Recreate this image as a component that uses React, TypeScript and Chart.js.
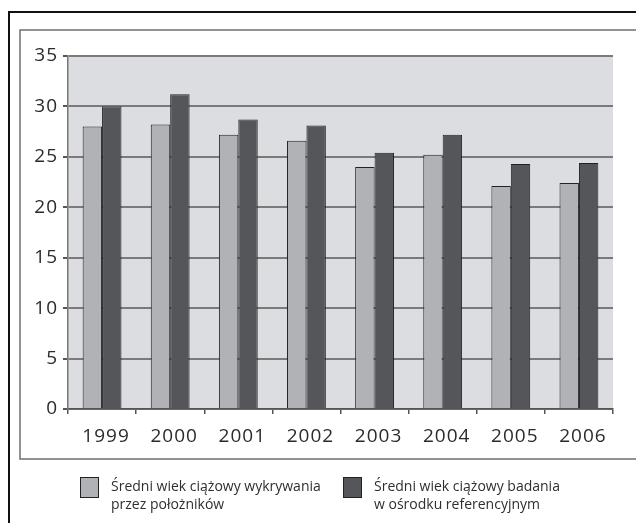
import React, { useEffect, useRef } from "react";
import { Chart, registerables } from "chart.js";

Chart.register(...registerables);

const years = ["1999", "2000", "2001", "2002", "2003", "2004", "2005", "2006"];
const obstetricians = [28.0, 28.2, 27.2, 26.6, 24.0, 25.2, 22.1, 22.4];
const referenceCentre = [30.0, 31.2, 28.7, 28.1, 25.4, 27.2, 24.3, 24.4];
const legendLabels = [
  ["Średni wiek ciążowy wykrywania", "przez położników"],
  ["Średni wiek ciążowy badania", "w ośrodku referencyjnym"],
];
const yTicks = [0, 5, 10, 15, 20, 25, 30, 35];

const LIGHT = "#b0b2b5";
const DARK = "#555659";
const FONT = "'Open Sans', 'DejaVu Sans', sans-serif";

const framePlugin = {
  id: "frame",
  beforeDraw(chart: any) {
    const { ctx, chartArea } = chart;
    ctx.save();
    ctx.fillStyle = "#ffffff";
    ctx.fillRect(0, 0, chart.width, chart.height);
    // outer frame
    ctx.strokeStyle = "#111111";
    ctx.lineWidth = 2;
    ctx.beginPath();
    ctx.moveTo(9, 523);
    ctx.lineTo(9, 12);
    ctx.lineTo(636, 12);
    ctx.stroke();
    // inner frame
    ctx.strokeStyle = "#6f6f6f";
    ctx.lineWidth = 1.5;
    ctx.beginPath();
    ctx.moveTo(636, 30);
    ctx.lineTo(20, 30);
    ctx.lineTo(20, 459);
    ctx.lineTo(636, 459);
    ctx.stroke();
    // plot background
    ctx.fillStyle = "#dcdde0";
    ctx.fillRect(chartArea.left, chartArea.top, chartArea.right - chartArea.left, chartArea.bottom - chartArea.top);
    ctx.restore();
    (ctx as any).letterSpacing = "1px";
  },
  afterDraw(chart: any) {
    const { ctx } = chart;
    (ctx as any).letterSpacing = "0px";
    const items = [
      { x: 80, color: LIGHT, lines: legendLabels[0] },
      { x: 343, color: DARK, lines: legendLabels[1] },
    ];
    ctx.save();
    for (const it of items) {
      ctx.fillStyle = it.color;
      ctx.fillRect(it.x, 477, 19, 21);
      ctx.strokeStyle = "#222222";
      ctx.lineWidth = 1;
      ctx.strokeRect(it.x + 0.5, 477.5, 18, 20);
      ctx.fillStyle = "#2e2e2e";
      ctx.font = `14px ${FONT}`;
      ctx.textBaseline = "middle";
      ctx.textAlign = "left";
      it.lines.forEach((ln: string, i: number) => {
        ctx.fillText(ln, it.x + 31, 487 + i * 18.5);
      });
    }
    ctx.restore();
  },
};

export default function App() {
  const ref = useRef<HTMLCanvasElement | null>(null);
  useEffect(() => {
    if (!ref.current) return;
    const chart = new Chart(ref.current, {
      type: "bar",
      data: {
        labels: years,
        datasets: [
          {
            label: legendLabels[0].join(" "),
            data: obstetricians,
            backgroundColor: LIGHT,
            borderColor: "#222222",
            borderWidth: 1,
            barPercentage: 1,
            categoryPercentage: 0.57,
          },
          {
            label: legendLabels[1].join(" "),
            data: referenceCentre,
            backgroundColor: DARK,
            borderColor: "#222222",
            borderWidth: 1,
            barPercentage: 1,
            categoryPercentage: 0.57,
          },
        ],
      },
      options: {
        responsive: false,
        animation: false,
        layout: { padding: { left: 0, top: 56, right: 23, bottom: 64 } },
        plugins: { legend: { display: false }, tooltip: { enabled: false } },
        scales: {
          x: {
            grid: {
              offset: true,
              drawOnChartArea: false,
              drawTicks: true,
              tickLength: 5,
              color: "#555555",
              lineWidth: 1.5,
            },
            border: { display: true, color: "#555555", width: 1.5 },
            ticks: {
              color: "#2b2b2b",
              font: { family: FONT, size: 19 },
              padding: 11,
              labelOffset: 4,
            },
            afterFit: (s: any) => {
              s.height = 50;
            },
          },
          y: {
            min: 0,
            max: 35,
            afterBuildTicks: (s: any) => {
              s.ticks = yTicks.map((v) => ({ value: v }));
            },
            grid: {
              color: "#7a7a7a",
              lineWidth: 2,
              tickLength: 5,
              tickColor: "#555555",
            },
            border: { display: true, color: "#777777", width: 1.5 },
            ticks: {
              color: "#2b2b2b",
              font: { family: FONT, size: 19 },
              padding: 5,
            },
            afterFit: (s: any) => {
              s.width = 68;
            },
          },
        },
      },
      plugins: [framePlugin],
    });
    return () => chart.destroy();
  }, []);
  return (
    <div style={{ position: "fixed", left: 0, top: 0, width: 636, height: 523 }}>
      <canvas ref={ref} width={636} height={523} style={{ display: "block" }} />
    </div>
  );
}
